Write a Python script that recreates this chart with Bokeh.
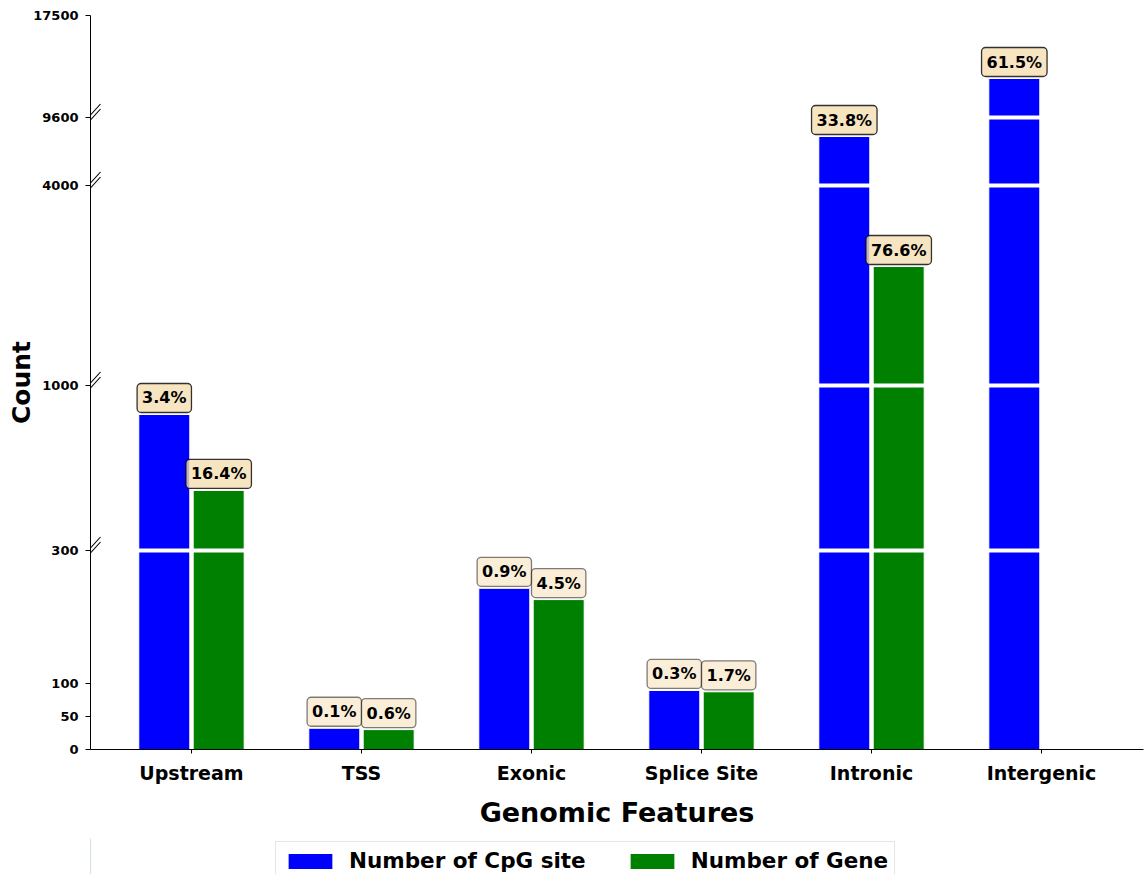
import numpy as np
from bokeh.plotting import figure
from bokeh.layouts import column
from bokeh.models import (ColumnDataSource, FixedTicker, Range1d, Label, Legend,
                          LegendItem)
from bokeh.embed import file_html
from bokeh.resources import INLINE

# ---------------- data ----------------
categories = ["Upstream", "TSS", "Exonic", "Splice Site", "Intronic", "Intergenic"]
cpg_counts = [877, 32, 243, 89, 8035, 12620]
gene_counts = [555, 30, 226, 87, 2785, 0]
cpg_pct = ["3.4%", "0.1%", "0.9%", "0.3%", "33.8%", "61.5%"]
gene_pct = ["16.4%", "0.6%", "4.5%", "1.7%", "76.6%", ""]
series_names = ["Number of CpG site", "Number of Gene"]
series_colors = ["blue", "green"]
y_tick_values = [0, 50, 100, 300, 1000, 4000, 9600, 17500]
y_breaks = [300, 1000, 4000, 9600]

# ---------------- broken axis scale ----------------
seg_values = [0, 300, 1000, 4000, 9600, 17500]
seg_pos = [0, 199, 364, 564, 632, 734]


def ty(v):
    return float(np.interp(v, seg_values, seg_pos))


FONT = "DejaVu Sans"
BAR_W = 0.3
OFF = 0.16
PX_X = 1.0 / 170.0  # data units per pixel in x

p = figure(width=1147, height=838, output_backend="svg", toolbar_location=None,
           x_range=Range1d(-0.594, 5.6), y_range=Range1d(0, 734),
           min_border_left=90, min_border_right=4, min_border_top=15,
           min_border_bottom=89)
p.outline_line_color = None
p.xgrid.visible = False
p.ygrid.visible = False
p.background_fill_color = "white"
p.border_fill_color = "white"

xs = np.arange(len(categories))

cpg_src = ColumnDataSource(dict(
    x=[float(x - OFF) for x, v in zip(xs, cpg_counts) if v > 0],
    top=[ty(v) for v in cpg_counts if v > 0]))
gene_src = ColumnDataSource(dict(
    x=[float(x + OFF) for x, v in zip(xs, gene_counts) if v > 0],
    top=[ty(v) for v in gene_counts if v > 0]))

p.vbar(x="x", top="top", bottom=0, width=BAR_W, source=cpg_src,
       fill_color=series_colors[0], line_color="white", line_width=1)
p.vbar(x="x", top="top", bottom=0, width=BAR_W, source=gene_src,
       fill_color=series_colors[1], line_color="white", line_width=1)

# white gaps across bars at each axis break
gx, gy = [], []
for series, off in ((cpg_counts, -OFF), (gene_counts, OFF)):
    for x, v in zip(xs, series):
        for b in y_breaks:
            if v > b:
                gx.append(float(x + off))
                gy.append(ty(b))
p.rect(x=gx, y=gy, width=BAR_W + 0.01, height=4, fill_color="white",
       line_color=None)

# percentage labels
for series, pcts, off in ((cpg_counts, cpg_pct, -OFF), (gene_counts, gene_pct, OFF)):
    for x, v, t in zip(xs, series, pcts):
        if not t:
            continue
        strong = v > y_breaks[0]
        alpha = 0.8 if strong else 0.5
        p.add_layout(Label(x=float(x + off), y=ty(v), y_offset=2, text=t,
                           text_align="center", text_baseline="bottom",
                           text_font=FONT, text_font_style="bold",
                           text_font_size="16px", text_color="black",
                           background_fill_color="wheat",
                           background_fill_alpha=alpha,
                           border_line_color="black", border_line_alpha=alpha,
                           border_line_width=1.3, padding=5, border_radius=4))

# break marks on y axis
x_axis = p.x_range.start
bx0, by0, bx1, by1 = [], [], [], []
for b in y_breaks:
    for d in (-2.5, 2.5):
        bx0.append(x_axis - 10 * PX_X)
        by0.append(ty(b) - 11 + d)
        bx1.append(x_axis + 10 * PX_X)
        by1.append(ty(b) + 11 + d)
p.segment(x0=bx0, y0=by0, x1=bx1, y1=by1, line_color="black", line_width=1.1)

# axes
p.xaxis.ticker = FixedTicker(ticks=[int(x) for x in xs])
p.xaxis.major_label_overrides = {int(x): c for x, c in zip(xs, categories)}
p.xaxis.axis_label = "Genomic Features"
p.yaxis.ticker = FixedTicker(ticks=[ty(v) for v in y_tick_values])
p.yaxis.major_label_overrides = {ty(v): str(v) for v in y_tick_values}
p.yaxis.axis_label = "Count"

for ax in (p.xaxis, p.yaxis):
    ax.axis_line_color = "black"
    ax.axis_line_width = 1
    ax.major_tick_line_color = "black"
    ax.major_tick_in = 0
    ax.minor_tick_line_color = None
    ax.major_label_text_font = FONT
    ax.major_label_text_font_style = "bold"
    ax.major_label_text_color = "black"
    ax.axis_label_text_font = FONT
    ax.axis_label_text_font_style = "bold"
    ax.axis_label_text_color = "black"

p.xaxis.axis_label_text_font_size = "27px"
p.yaxis.axis_label_text_font_size = "25px"
p.xaxis.major_tick_out = 4
p.xaxis.major_label_text_font_size = "19px"
p.xaxis.major_label_standoff = 8
p.xaxis.axis_label_standoff = 10
p.yaxis.major_tick_out = 5
p.yaxis.major_label_text_font_size = "13px"
p.yaxis.major_label_standoff = 7
p.yaxis.axis_label_standoff = -6

# ---------------- legend strip below the chart ----------------
lg = figure(width=1147, height=36, output_backend="svg", toolbar_location=None,
            x_range=Range1d(0, 1), y_range=Range1d(0, 1),
            x_axis_type=None, y_axis_type=None,
            min_border_left=0, min_border_right=0, min_border_top=0,
            min_border_bottom=0)
lg.outline_line_color = None
lg.xgrid.visible = False
lg.ygrid.visible = False
lg.background_fill_color = "white"
lg.border_fill_color = "white"
items = []
for name, color in zip(series_names, series_colors):
    # proxy glyph placed outside the visible range, used only by the legend
    r = lg.vbar(x=[-5.0], top=[1.0], width=0.1, fill_color=color,
                line_color="white", line_width=1)
    items.append(LegendItem(label=name, renderers=[r]))

legend = Legend(items=items, orientation="horizontal", location=(185, -6))
legend.label_text_font = FONT
legend.label_text_font_style = "bold"
legend.label_text_font_size = "21.5px"
legend.label_text_color = "black"
legend.glyph_width = 56
legend.glyph_height = 20
legend.label_standoff = 11
legend.spacing = 38
legend.padding = 6
legend.margin = 0
legend.border_line_color = "#cccccc"
legend.border_line_width = 1
legend.background_fill_alpha = 1.0
lg.add_layout(legend, "center")

layout = column(p, lg, spacing=0)
open("out.html", "w").write(file_html(layout, INLINE))
